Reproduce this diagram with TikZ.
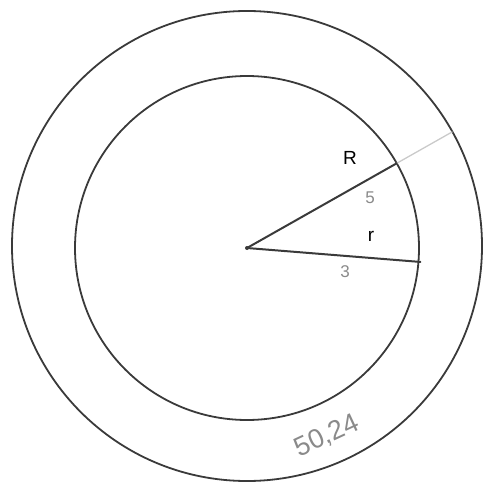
\documentclass[tikz,border=0pt]{standalone}
\usepackage{fontspec}
\setmainfont{Liberation Sans}
\usetikzlibrary{calc}
\definecolor{pencil}{HTML}{3A3A3A}
\definecolor{pencilgray}{HTML}{8A8A8A}
\tikzset{
  ring/.style={draw=pencil,line width=1.8pt},
  radius line/.style={draw=pencil,line width=2pt,line cap=round},
  extension/.style={draw=pencilgray!45,line width=1.3pt},
  letter/.style={font=\fontsize{19}{19}\selectfont,text=black,inner sep=0pt},
  handnote/.style={font=\fontsize{17}{17}\selectfont,text=pencilgray,inner sep=0pt},
}

\begin{document}
\begin{tikzpicture}[x=1pt,y=-1pt]
    \useasboundingbox (0,0) rectangle (486,486);
    \coordinate (o) at (247,248);
    \draw[ring] (247,246) circle[radius=235];
    \draw[ring] (o) circle[radius=172];
    \coordinate (a) at ($(o)+(-29.5:172)$);
    \coordinate (b) at ($(o)+(4.6:174)$);
    \coordinate (c) at ($(o)+(-29.5:236)$);
    \draw[extension] (a)--(c);
    \draw[radius line] (o)--(a);\draw[radius line] (o)--(b);
    \fill[pencil] (o) circle[radius=2];
    \node[letter] (lR) at (350,158) {R};
    \node[letter] (lr) at (371,236) {r};
    \node[handnote] (l5) at (370,198) {5};
    \node[handnote] (l3) at (345,272) {3};
    \node[handnote,font=\fontsize{27}{27}\selectfont,rotate=25] (area) at (327,436) {50,24};
  \end{tikzpicture}
\end{document}
